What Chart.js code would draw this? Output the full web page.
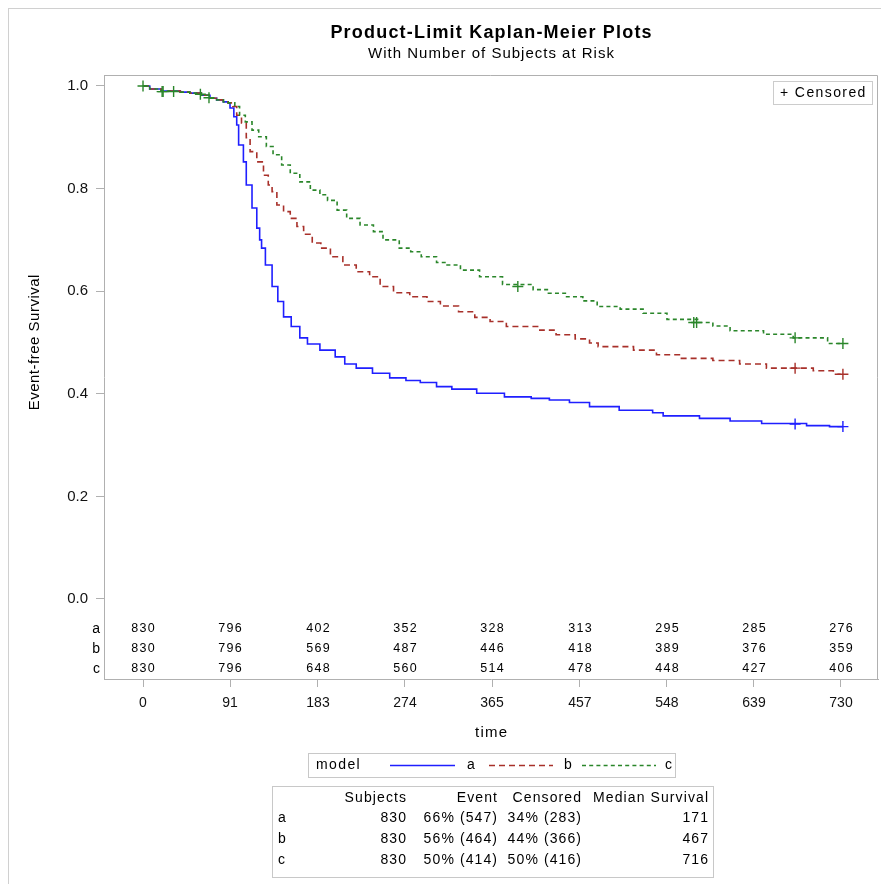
<!DOCTYPE html>
<html>
<head>
<meta charset="utf-8">
<script src="https://cdn.jsdelivr.net/npm/chart.js@4/dist/chart.umd.min.js"></script>
<style>
  html, body { margin: 0; padding: 0; background: #fff; }
  #km { display: block; }
</style>
</head>
<body>
<canvas id="km" width="881" height="884"></canvas>
<script>
// survival curves (time in days, step values)
let aTime = [0, 7, 19, 39, 49, 61, 70, 77, 84, 89, 91, 95, 98, 100, 105, 108, 114, 119, 122, 124, 128, 135, 141, 147, 155, 164, 172, 185, 201, 211, 223, 240, 258, 275, 290, 307, 323, 349, 378, 406, 425, 446, 467, 498, 533, 544, 582, 614, 647, 694, 718, 732];
let aSurv = [1.0, 0.994, 0.990, 0.988, 0.986, 0.982, 0.976, 0.973, 0.969, 0.967, 0.957, 0.940, 0.924, 0.885, 0.852, 0.807, 0.762, 0.723, 0.700, 0.684, 0.651, 0.609, 0.580, 0.550, 0.531, 0.509, 0.497, 0.485, 0.472, 0.458, 0.450, 0.440, 0.431, 0.426, 0.422, 0.414, 0.409, 0.401, 0.394, 0.391, 0.388, 0.383, 0.375, 0.368, 0.363, 0.357, 0.352, 0.347, 0.342, 0.338, 0.336, 0.336];

let bTime = [0, 7, 19, 39, 49, 61, 70, 77, 84, 89, 94, 98, 103, 108, 112, 119, 126, 131, 135, 140, 147, 154, 161, 168, 177, 186, 196, 209, 223, 237, 248, 262, 279, 297, 311, 330, 347, 363, 380, 415, 432, 452, 467, 476, 513, 537, 562, 596, 624, 652, 701, 722, 732];
let bSurv = [1.0, 0.994, 0.990, 0.988, 0.986, 0.982, 0.976, 0.973, 0.969, 0.967, 0.960, 0.943, 0.928, 0.899, 0.872, 0.852, 0.826, 0.807, 0.794, 0.768, 0.755, 0.742, 0.726, 0.711, 0.694, 0.684, 0.667, 0.651, 0.638, 0.628, 0.609, 0.597, 0.589, 0.580, 0.571, 0.560, 0.549, 0.541, 0.531, 0.524, 0.515, 0.507, 0.499, 0.492, 0.485, 0.476, 0.469, 0.465, 0.458, 0.450, 0.445, 0.438, 0.438];

let cTime = [0, 7, 19, 39, 49, 61, 70, 77, 84, 89, 96, 101, 107, 114, 121, 129, 136, 145, 154, 164, 175, 185, 193, 203, 213, 227, 241, 251, 268, 280, 291, 307, 318, 332, 352, 376, 408, 424, 443, 460, 475, 499, 523, 548, 580, 596, 614, 649, 680, 716, 732];
let cSurv = [1.0, 0.994, 0.990, 0.988, 0.986, 0.982, 0.976, 0.973, 0.969, 0.967, 0.960, 0.943, 0.930, 0.914, 0.901, 0.882, 0.866, 0.846, 0.830, 0.813, 0.797, 0.788, 0.777, 0.758, 0.742, 0.729, 0.716, 0.700, 0.684, 0.677, 0.667, 0.656, 0.651, 0.641, 0.628, 0.613, 0.603, 0.596, 0.589, 0.581, 0.570, 0.565, 0.557, 0.545, 0.539, 0.532, 0.523, 0.516, 0.509, 0.498, 0.498];

// censored marks
let aCensT = [682, 732];
let aCensS = [0.341, 0.336];
let bCensT = [682, 732];
let bCensS = [0.450, 0.438];
let cCensT = [0, 20, 21, 32, 60, 69, 392, 576, 579, 682, 732];
let cCensS = [1.0, 0.989, 0.989, 0.989, 0.984, 0.977, 0.609, 0.539, 0.539, 0.509, 0.498];

// axis ticks and at-risk table
let xTicks = [0, 91, 183, 274, 365, 457, 548, 639, 730];
let yTicks = [0, 0.2, 0.4, 0.6, 0.8, 1.0];
let groups = ['a', 'b', 'c'];
let riskA = [830, 796, 402, 352, 328, 313, 295, 285, 276];
let riskB = [830, 796, 569, 487, 446, 418, 389, 376, 359];
let riskC = [830, 796, 648, 560, 514, 478, 448, 427, 406];

// summary table
let statHead = ['Subjects', 'Event', 'Censored', 'Median Survival'];
let statSubjects = ['830', '830', '830'];
let statEvent = ['66% (547)', '56% (464)', '50% (414)'];
let statCensored = ['34% (283)', '44% (366)', '50% (416)'];
let statMedian = ['171', '467', '716'];

const colA = '#1f1fff', colB = '#a8302a', colC = '#2a862a';
const FONT = "'Liberation Sans', Arial, sans-serif";

function pts(t, s) { return t.map((v, i) => ({x: v, y: s[i]})); }

function curve(label, t, s, col, dash, order) {
    return {
        label: label, data: pts(t, s), showLine: true, stepped: 'before',
        borderColor: col, borderWidth: 1.6, borderDash: dash,
        pointRadius: 0, pointHoverRadius: 0, order: order
    };
}
function cens(t, s, col, order) {
    return {
        data: pts(t, s), showLine: false, pointStyle: 'cross',
        pointRadius: 5.5, borderColor: col, borderWidth: 1.4,
        backgroundColor: col, order: order
    };
}

// text with a little extra tracking, like the SAS output
function txt(ctx, s, x, y, font, ls, align) {
    ctx.font = font;
    ctx.letterSpacing = ls + 'px';
    ctx.textAlign = align;
    let dx = 0;
    if (align === 'right') dx = ls;
    if (align === 'center') dx = ls / 2;
    ctx.fillText(s, x + dx, y);
    ctx.letterSpacing = '0px';
}

const extras = {
    id: 'extras',
    afterDraw(chart) {
        const ctx = chart.ctx;
        const area = chart.chartArea;
        const xs = chart.scales.x, ys = chart.scales.y;
        ctx.save();

        // outer border
        ctx.strokeStyle = '#d0d0d0';
        ctx.lineWidth = 1;
        ctx.strokeRect(8.5, 8.5, 900, 900);

        // frame top / right
        ctx.strokeStyle = '#b0b0b0';
        ctx.beginPath();
        ctx.moveTo(area.left, area.top + 0.5);
        ctx.lineTo(area.right - 0.5, area.top + 0.5);
        ctx.lineTo(area.right - 0.5, area.bottom);
        ctx.stroke();

        // titles
        ctx.fillStyle = '#000';
        ctx.textBaseline = 'middle';
        const cx = (area.left + area.right) / 2;
        txt(ctx, 'Product-Limit Kaplan-Meier Plots', cx, 33, 'bold 18px ' + FONT, 1.2, 'center');
        txt(ctx, 'With Number of Subjects at Risk', cx, 54, '15px ' + FONT, 1, 'center');

        // axis titles
        txt(ctx, 'time', cx, 733, '15px ' + FONT, 1.2, 'center');
        ctx.save();
        ctx.translate(35, (ys.getPixelForValue(0) + ys.getPixelForValue(1)) / 2);
        ctx.rotate(-Math.PI / 2);
        txt(ctx, 'Event-free Survival', 0, 0, '15px ' + FONT, 0.5, 'center');
        ctx.restore();

        // at-risk rows
        const risk = [riskA, riskB, riskC];
        const rowY = [629, 649, 669];
        groups.forEach((g, r) => {
            txt(ctx, g, area.left - 4, rowY[r], '14px ' + FONT, 0, 'right');
            risk[r].forEach((n, i) => {
                txt(ctx, String(n), xs.getPixelForValue(xTicks[i]), rowY[r], '12.5px ' + FONT, 1.3, 'center');
            });
        });

        // censored legend box
        ctx.strokeStyle = '#cccccc';
        ctx.strokeRect(773.5, 81.5, 99, 23);
        txt(ctx, '+ Censored', 780, 93, '14px ' + FONT, 1.4, 'left');

        // group legend
        ctx.strokeStyle = '#c8c8c8';
        ctx.strokeRect(308.5, 753.5, 367, 24);
        const ly = 765;
        txt(ctx, 'model', 316, ly, '14px ' + FONT, 1.4, 'left');
        const items = [[390, 455, colA, [], 'a', 467], [489, 553, colB, [6, 4], 'b', 564], [582, 656, colC, [4, 3.2], 'c', 665]];
        items.forEach(it => {
            ctx.save();
            ctx.strokeStyle = it[2];
            ctx.lineWidth = 1.6;
            ctx.setLineDash(it[3]);
            ctx.beginPath();
            ctx.moveTo(it[0], ly + 0.5);
            ctx.lineTo(it[1], ly + 0.5);
            ctx.stroke();
            ctx.restore();
            ctx.fillStyle = '#000';
            txt(ctx, it[4], it[5], ly, '14px ' + FONT, 0, 'left');
        });

        // summary table
        ctx.strokeStyle = '#c8c8c8';
        ctx.strokeRect(272.5, 786.5, 441, 91);
        const colR = [406, 497, 581, 708];
        const tf = '14px ' + FONT;
        statHead.forEach((h, i) => txt(ctx, h, colR[i], 798, tf, 1.1, 'right'));
        const tRows = [818, 839, 860];
        groups.forEach((g, r) => {
            txt(ctx, g, 278, tRows[r], tf, 0, 'left');
            txt(ctx, statSubjects[r], colR[0], tRows[r], tf, 1.1, 'right');
            txt(ctx, statEvent[r], colR[1], tRows[r], tf, 1.1, 'right');
            txt(ctx, statCensored[r], colR[2], tRows[r], tf, 1.1, 'right');
            txt(ctx, statMedian[r], colR[3], tRows[r], tf, 1.1, 'right');
        });
        ctx.restore();
    }
};

const chart = new Chart(document.getElementById('km'), {
    type: 'scatter',
    data: {
        datasets: [
            curve('a', aTime, aSurv, colA, [], 5),
            curve('b', bTime, bSurv, colB, [6, 4], 4),
            curve('c', cTime, cSurv, colC, [4, 3.2], 3),
            cens(aCensT, aCensS, colA, 2),
            cens(bCensT, bCensS, colB, 1),
            cens(cCensT, cCensS, colC, 0)
        ]
    },
    options: {
        responsive: false,
        animation: false,
        layout: { autoPadding: false, padding: { left: 0, right: 3, top: 75, bottom: 165 } },
        plugins: { legend: { display: false }, tooltip: { enabled: false }, title: { display: false } },
        scales: {
            x: {
                type: 'linear', min: -40.8, max: 768.7,
                afterBuildTicks: s => { s.ticks = xTicks.map(v => ({value: v})); },
                afterFit: s => { s.height = 40; },
                grid: { drawOnChartArea: false, drawTicks: true, tickLength: 8, color: '#b0b0b0' },
                border: { color: '#b0b0b0' },
                ticks: { color: '#111', font: { family: FONT, size: 14 }, padding: 8, maxRotation: 0, autoSkip: false }
            },
            y: {
                type: 'linear', min: -0.156, max: 1.0214,
                afterBuildTicks: s => { s.ticks = yTicks.map(v => ({value: v})); },
                afterFit: s => { s.width = 104; },
                grid: { drawOnChartArea: false, drawTicks: true, tickLength: 8, color: '#b0b0b0' },
                border: { color: '#b0b0b0' },
                ticks: { color: '#111', font: { family: FONT, size: 15 }, padding: 8, callback: v => v.toFixed(1) }
            }
        }
    },
    plugins: [extras]
});
</script>
</body>
</html>
